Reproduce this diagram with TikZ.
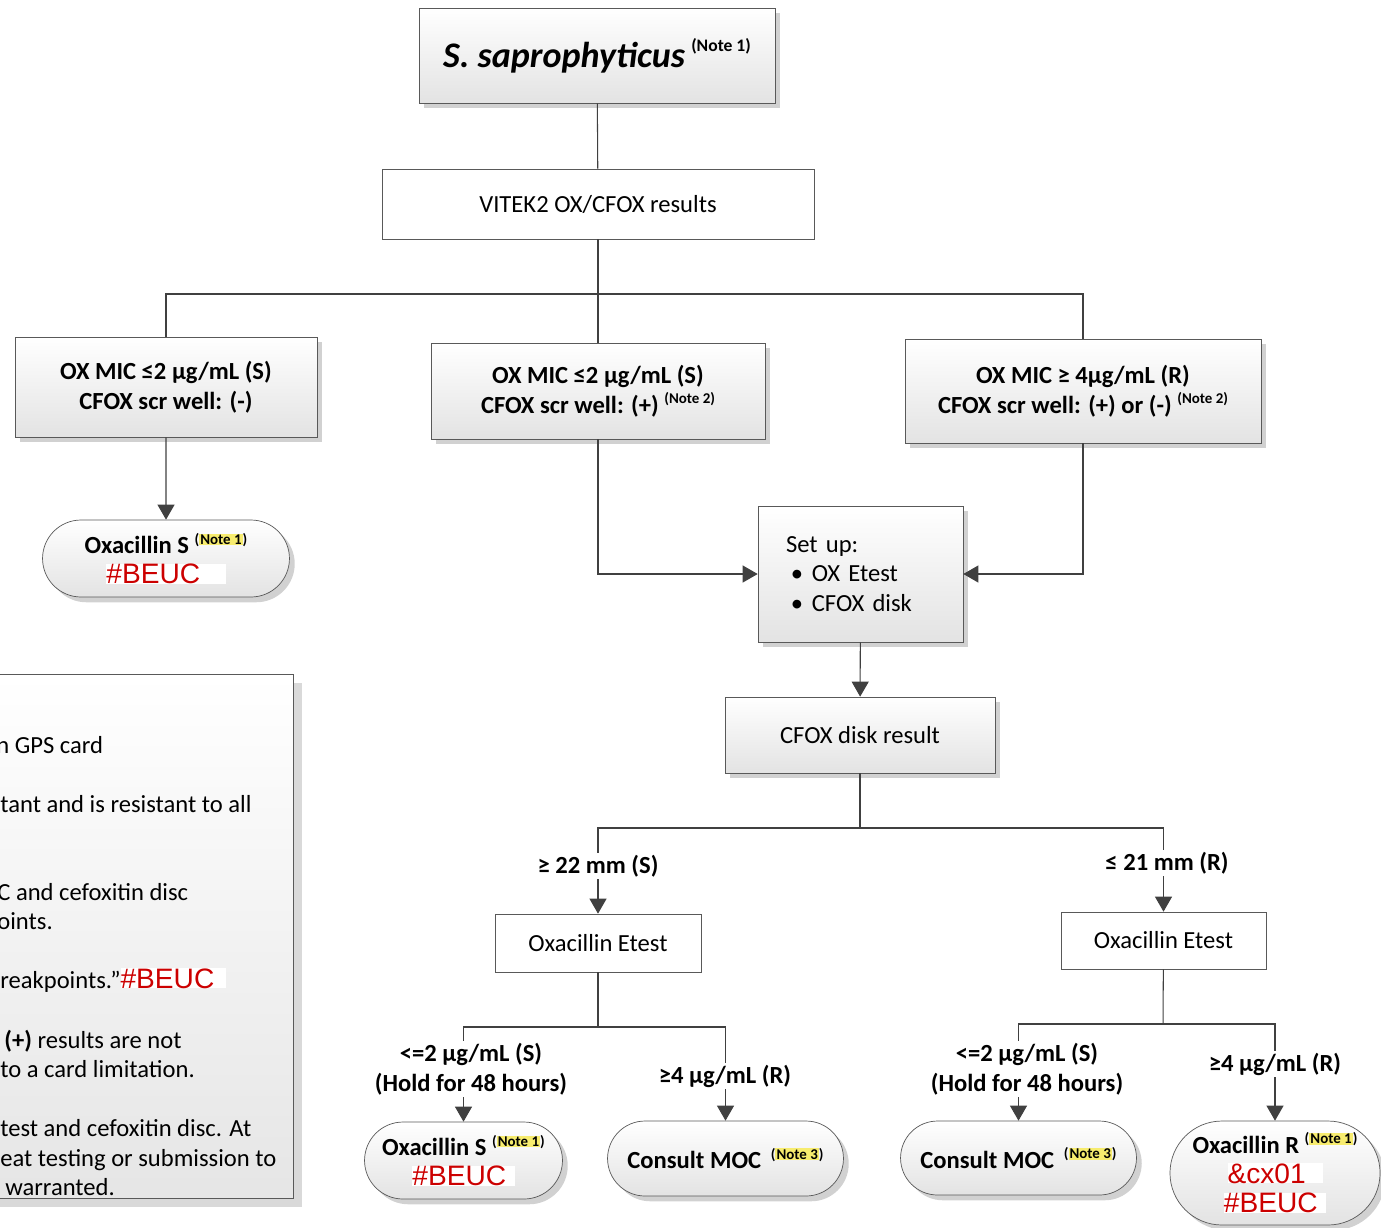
\documentclass[tikz,border=0pt]{standalone}
\usepackage{fontspec}
\setmainfont{Carlito}
\newfontfamily\redfont{Liberation Sans}
\usetikzlibrary{arrows.meta,shapes.misc,shadows}
\definecolor{beucred}{HTML}{CC0000}
\definecolor{notey}{HTML}{F7EC6E}
\definecolor{linegray}{HTML}{404040}
\newcommand{\note}[1]{\raisebox{0.8ex}{\fontsize{8.5}{9}\selectfont\bfseries(Note #1)}}
\newcommand{\hnote}[1]{\raisebox{0.8ex}{\fontsize{8.5}{9}\selectfont\bfseries(\setlength{\fboxsep}{0.6pt}\colorbox{notey}{Note #1})}}
\newcommand{\beuc}[1]{{\setlength{\fboxsep}{0pt}\colorbox{white}{\redfont\fontsize{16}{19}\selectfont\color{beucred}#1}}}
\tikzset{
  box/.style={draw=black!65, rectangle, align=center, inner sep=2pt, font=\fontsize{14}{17}\selectfont},
  shadebox/.style={box, top color=white, bottom color=black!11,
    drop shadow={shadow xshift=3pt, shadow yshift=-3pt, fill=black!18, opacity=1}},
  endbox/.style={shadebox, rounded rectangle},
  conn/.style={draw=linegray, line width=0.6pt},
  arr/.style={conn, -{Triangle[width=0.34cm,length=0.3cm]}},
  lbl/.style={fill=white, inner sep=1pt, align=center, font=\fontsize{14}{17}\selectfont\bfseries},
  notetxt/.style={anchor=base west, inner sep=0pt, font=\fontsize{14}{17}\selectfont},
}
\begin{document}
\begin{tikzpicture}[x=0.02cm, y=-0.02cm]
  \useasboundingbox (0,0) rectangle (1381,1227);
  \clip (0,0) rectangle (1381,1227);

  \node[shadebox, minimum width=7.12cm, minimum height=1.9cm] (title) at (597,55.5)
    {\fontsize{20.5}{23}\selectfont\bfseries\itshape S. saprophyticus\upshape\,\raisebox{0.9ex}{\fontsize{10}{12}\selectfont(Note 1)}};
  \node[box, minimum width=8.64cm, minimum height=1.4cm] (vitek) at (598,204) {VITEK2 OX/CFOX results};

  \node[shadebox, font=\fontsize{14}{17}\selectfont\bfseries, minimum width=6.04cm, minimum height=2cm] (leftbox) at (166,387)
    {OX MIC ≤2 µg/mL (S)\\CFOX scr well: (-)};
  \node[shadebox, font=\fontsize{14}{17}\selectfont\bfseries, minimum width=6.68cm, minimum height=1.92cm] (midbox) at (598,391)
    {OX MIC ≤2 µg/mL (S)\\CFOX scr well: (+) \note2};
  \node[shadebox, font=\fontsize{14}{17}\selectfont\bfseries, minimum width=7.12cm, minimum height=2.08cm] (rightbox) at (1083,391)
    {OX MIC ≥ 4µg/mL (R)\\CFOX scr well: (+) or (-) \note2};

  \node[endbox, minimum width=5.08cm, minimum height=1.54cm] (ovalL) at (166,558.5)
    {\textbf{Oxacillin S} \hnote1\\\beuc{\#BEUC\hspace{0.9em}}\hspace{1.2em}};

  \node[shadebox, align=left, text width=2.98cm, minimum width=4.1cm, minimum height=2.72cm] (setup) at (860.5,574)
    {Set up:\\\hspace*{0.2em}\makebox[0.85em][l]{•}OX Etest\\\hspace*{0.2em}\makebox[0.85em][l]{•}CFOX disk};
  \node[shadebox, minimum width=5.4cm, minimum height=1.52cm] (cfoxres) at (860,735) {CFOX disk result};

  \node[box, minimum width=4.12cm, minimum height=1.16cm] (etestL) at (598,943) {Oxacillin Etest};
  \node[box, minimum width=4.1cm, minimum height=1.14cm] (etestR) at (1163.5,940.5) {Oxacillin Etest};

  \node[endbox, minimum width=4.1cm, minimum height=1.54cm] (oxS) at (463.5,1160.5)
    {\textbf{Oxacillin S} \hnote1\\\beuc{\#BEUC\hspace{0.3em}}\hspace{0.9em}};
  \node[endbox, minimum width=4.86cm, minimum height=1.5cm] (mocL) at (725.5,1158.5)
    {\textbf{Consult MOC}\, \hnote3};
  \node[endbox, minimum width=4.86cm, minimum height=1.48cm] (mocR) at (1018.5,1158)
    {\textbf{Consult MOC}\, \hnote3};
  \node[endbox, minimum width=4.12cm, minimum height=2.08cm] (oxR) at (1275,1173)
    {\textbf{Oxacillin R} \hnote1\\\beuc{\&cx01\hspace{0.6em}}\hspace{0.3em}\\\beuc{\#BEUC\hspace{0.3em}}\hspace{0.3em}};

  \node[draw=black!65, top color=white, bottom color=black!10,
    drop shadow={shadow xshift=5pt, shadow yshift=-5pt, fill=black!15, opacity=1},
    minimum width=6.26cm, minimum height=10.48cm] (notes) at (136.5,936) {};
  \foreach \yy/\txt [count=\i] in {753/{\hspace*{-2.3pt}n GPS card}, 812/{tant and is resistant to all},
      900/{\hspace*{-1.7pt}C and cefoxitin disc}, 929/{\hspace*{-1.7pt}oints.},
      988/{reakpoints.”\beuc{\#BEUC\hspace{0.4em}}}, 1048/{\hspace*{2.3pt}\textbf{(+)} results are not},
      1077/{to a card limitation.}, 1136/{test and cefoxitin disc. At},
      1166/{eat testing or submission to}, 1195/{\hspace*{2.8pt}warranted.}}
    \node[notetxt] (nl\i) at (0,\yy) {\txt};

  \draw[conn] (title) -- (vitek);
  \coordinate (s1) at (598,294);
  \draw[conn] (vitek) -- (midbox);
  \draw[conn] (leftbox.north) |- (s1) -| (rightbox.north);
  \draw[arr] (leftbox) -- (ovalL);
  \draw[arr] (midbox.south) |- (setup.west);
  \draw[arr] (rightbox.south) |- (setup.east);
  \draw[arr] (setup) -- (cfoxres);

  \coordinate (s2) at (860,828);
  \draw[conn] (cfoxres) -- (s2);
  \draw[arr] (s2) -| (etestL.north);
  \draw[arr] (s2) -| (etestR.north);
  \node[lbl] (ge22) at (598,866) {≥ 22 mm (S)};
  \node[lbl] (le21) at (1167,863) {≤ 21 mm (R)};

  \coordinate (s3) at (598,1027);
  \draw[conn] (etestL) -- (s3);
  \draw[arr] (s3) -| (oxS.north);
  \draw[arr] (s3) -| (mocL.north);
  \node[lbl] (holdL) at (471,1069) {<=2 µg/mL (S)\\(Hold for 48 hours)};
  \node[lbl] (r4L) at (725,1076) {≥4 µg/mL (R)};

  \coordinate (s4) at (1163,1024);
  \draw[conn] (etestR) -- (s4);
  \draw[arr] (s4) -| (mocR.north);
  \draw[arr] (s4) -| (oxR.north);
  \node[lbl] (holdR) at (1027,1069) {<=2 µg/mL (S)\\(Hold for 48 hours)};
  \node[lbl] (r4R) at (1275,1064) {≥4 µg/mL (R)};
\end{tikzpicture}
\end{document}
